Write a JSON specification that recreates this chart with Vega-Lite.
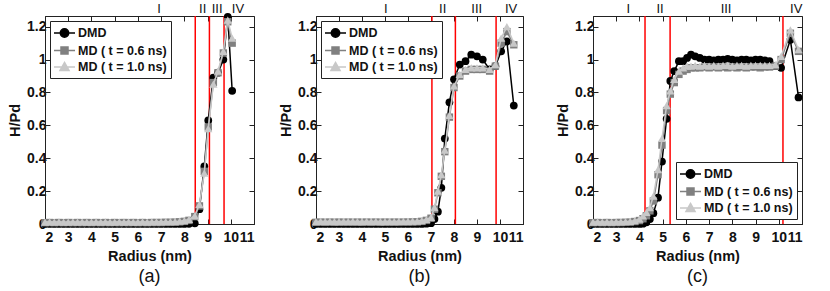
{
 "$schema": "https://vega.github.io/schema/vega-lite/v6.json",
 "padding": {"left": 7, "top": 2, "right": 5, "bottom": 2},
 "config": {
  "font": "Liberation Sans",
  "view": {"stroke": "#222", "strokeWidth": 1},
  "axis": {"grid": false, "domainColor": "#222", "tickColor": "#222", "labelColor": "#111", "titleColor": "#111", "labelFont": "Liberation Sans", "labelFontWeight": "bold", "labelFontSize": 14, "titleFont": "Liberation Sans", "titleFontWeight": "bold", "titleFontSize": 14.5, "tickSize": -5},
  "axisX": {"labelPadding": 11},
  "axisY": {"labelPadding": 4},
  "title": {"font": "Liberation Sans", "fontSize": 18, "fontWeight": "normal", "color": "#111", "orient": "bottom", "offset": 5},
  "legend": {"fillColor": "white", "strokeColor": "#222", "padding": 4, "offset": 5, "symbolSize": 196, "symbolStrokeWidth": 1.5, "symbolOpacity": 1, "labelFont": "Liberation Sans", "labelFontWeight": "bold", "labelFontSize": 12.5, "labelColor": "#111", "rowPadding": 1.5, "labelOffset": 5.5, "symbolOffset": 2.5}
 },
 "bounds": "flush",
 "spacing": 62,
 "resolve": {"scale": {"color": "independent", "stroke": "independent", "shape": "independent"}, "legend": {"color": "independent", "stroke": "independent", "shape": "independent"}},
 "datasets": {
  "curves": [
   {"p":"a","r":2.0,"s1":0,"s2":0.008,"s3":0.012},
   {"p":"a","r":2.2,"s1":0,"s2":0.009,"s3":0.013},
   {"p":"a","r":2.4,"s1":0,"s2":0.008,"s3":0.012},
   {"p":"a","r":2.6,"s1":0,"s2":0.009,"s3":0.013},
   {"p":"a","r":2.8,"s1":0,"s2":0.008,"s3":0.012},
   {"p":"a","r":3.0,"s1":0,"s2":0.009,"s3":0.012},
   {"p":"a","r":3.2,"s1":0,"s2":0.008,"s3":0.013},
   {"p":"a","r":3.4,"s1":0,"s2":0.009,"s3":0.012},
   {"p":"a","r":3.6,"s1":0,"s2":0.008,"s3":0.013},
   {"p":"a","r":3.8,"s1":0,"s2":0.009,"s3":0.012},
   {"p":"a","r":4.0,"s1":0,"s2":0.008,"s3":0.012},
   {"p":"a","r":4.2,"s1":0,"s2":0.009,"s3":0.013},
   {"p":"a","r":4.4,"s1":0,"s2":0.008,"s3":0.012},
   {"p":"a","r":4.6,"s1":0,"s2":0.009,"s3":0.013},
   {"p":"a","r":4.8,"s1":0,"s2":0.008,"s3":0.012},
   {"p":"a","r":5.0,"s1":0,"s2":0.009,"s3":0.012},
   {"p":"a","r":5.2,"s1":0,"s2":0.008,"s3":0.013},
   {"p":"a","r":5.4,"s1":0,"s2":0.009,"s3":0.012},
   {"p":"a","r":5.6,"s1":0,"s2":0.008,"s3":0.013},
   {"p":"a","r":5.8,"s1":0,"s2":0.009,"s3":0.012},
   {"p":"a","r":6.0,"s1":0,"s2":0.008,"s3":0.012},
   {"p":"a","r":6.2,"s1":0,"s2":0.009,"s3":0.013},
   {"p":"a","r":6.4,"s1":0,"s2":0.008,"s3":0.012},
   {"p":"a","r":6.6,"s1":0,"s2":0.009,"s3":0.013},
   {"p":"a","r":6.8,"s1":0,"s2":0.009,"s3":0.013},
   {"p":"a","r":7.0,"s1":0,"s2":0.009,"s3":0.013},
   {"p":"a","r":7.2,"s1":0,"s2":0.01,"s3":0.014},
   {"p":"a","r":7.4,"s1":0,"s2":0.01,"s3":0.014},
   {"p":"a","r":7.6,"s1":0,"s2":0.011,"s3":0.015},
   {"p":"a","r":7.8,"s1":0,"s2":0.013,"s3":0.017},
   {"p":"a","r":8.0,"s1":0,"s2":0.016,"s3":0.021},
   {"p":"a","r":8.2,"s1":0.001,"s2":0.022,"s3":0.028},
   {"p":"a","r":8.45,"s1":0.004,"s2":0.045,"s3":0.05},
   {"p":"a","r":8.65,"s1":0.09,"s2":0.11,"s3":0.12},
   {"p":"a","r":8.86,"s1":0.35,"s2":0.32,"s3":0.31},
   {"p":"a","r":9.03,"s1":0.63,"s2":0.59,"s3":0.58},
   {"p":"a","r":9.25,"s1":0.89,"s2":0.86,"s3":0.85},
   {"p":"a","r":9.45,"s1":0.92,"s2":0.92,"s3":0.93},
   {"p":"a","r":9.68,"s1":1.0,"s2":1.04,"s3":1.05},
   {"p":"a","r":9.87,"s1":1.26,"s2":1.23,"s3":1.24},
   {"p":"a","r":10.06,"s1":0.81,"s2":1.1,"s3":1.13},

   {"p":"b","r":2.0,"s1":0,"s2":0.01,"s3":0.015},
   {"p":"b","r":2.2,"s1":0,"s2":0.011,"s3":0.016},
   {"p":"b","r":2.4,"s1":0,"s2":0.01,"s3":0.015},
   {"p":"b","r":2.6,"s1":0,"s2":0.011,"s3":0.016},
   {"p":"b","r":2.8,"s1":0,"s2":0.01,"s3":0.015},
   {"p":"b","r":3.0,"s1":0,"s2":0.011,"s3":0.015},
   {"p":"b","r":3.2,"s1":0,"s2":0.01,"s3":0.016},
   {"p":"b","r":3.4,"s1":0,"s2":0.011,"s3":0.015},
   {"p":"b","r":3.6,"s1":0,"s2":0.01,"s3":0.016},
   {"p":"b","r":3.8,"s1":0,"s2":0.011,"s3":0.015},
   {"p":"b","r":4.0,"s1":0,"s2":0.01,"s3":0.015},
   {"p":"b","r":4.2,"s1":0,"s2":0.011,"s3":0.016},
   {"p":"b","r":4.4,"s1":0,"s2":0.01,"s3":0.015},
   {"p":"b","r":4.6,"s1":0,"s2":0.011,"s3":0.016},
   {"p":"b","r":4.8,"s1":0,"s2":0.01,"s3":0.015},
   {"p":"b","r":5.0,"s1":0,"s2":0.011,"s3":0.015},
   {"p":"b","r":5.2,"s1":0,"s2":0.01,"s3":0.016},
   {"p":"b","r":5.4,"s1":0,"s2":0.011,"s3":0.015},
   {"p":"b","r":5.6,"s1":0,"s2":0.01,"s3":0.016},
   {"p":"b","r":5.8,"s1":0,"s2":0.011,"s3":0.016},
   {"p":"b","r":6.0,"s1":0,"s2":0.011,"s3":0.016},
   {"p":"b","r":6.2,"s1":0,"s2":0.012,"s3":0.017},
   {"p":"b","r":6.4,"s1":0,"s2":0.013,"s3":0.018},
   {"p":"b","r":6.6,"s1":0,"s2":0.016,"s3":0.021},
   {"p":"b","r":6.8,"s1":0.002,"s2":0.022,"s3":0.028},
   {"p":"b","r":7.0,"s1":0.005,"s2":0.035,"s3":0.04},
   {"p":"b","r":7.15,"s1":0.03,"s2":0.09,"s3":0.1},
   {"p":"b","r":7.3,"s1":0.075,"s2":0.19,"s3":0.2},
   {"p":"b","r":7.45,"s1":0.22,"s2":0.29,"s3":0.3},
   {"p":"b","r":7.6,"s1":0.52,"s2":0.44,"s3":0.45},
   {"p":"b","r":7.8,"s1":0.74,"s2":0.65,"s3":0.66},
   {"p":"b","r":8.0,"s1":0.88,"s2":0.83,"s3":0.84},
   {"p":"b","r":8.25,"s1":0.97,"s2":0.9,"s3":0.91},
   {"p":"b","r":8.5,"s1":0.99,"s2":0.93,"s3":0.94},
   {"p":"b","r":8.75,"s1":1.03,"s2":0.94,"s3":0.95},
   {"p":"b","r":9.0,"s1":1.02,"s2":0.94,"s3":0.95},
   {"p":"b","r":9.25,"s1":1.0,"s2":0.94,"s3":0.95},
   {"p":"b","r":9.55,"s1":0.94,"s2":0.93,"s3":0.94},
   {"p":"b","r":9.8,"s1":0.96,"s2":0.96,"s3":0.97},
   {"p":"b","r":10.05,"s1":1.05,"s2":1.1,"s3":1.13},
   {"p":"b","r":10.3,"s1":1.11,"s2":1.17,"s3":1.2},
   {"p":"b","r":10.6,"s1":0.72,"s2":1.09,"s3":1.1},

   {"p":"c","r":2.0,"s1":0,"s2":0.008,"s3":0.012},
   {"p":"c","r":2.2,"s1":0,"s2":0.009,"s3":0.013},
   {"p":"c","r":2.4,"s1":0,"s2":0.008,"s3":0.012},
   {"p":"c","r":2.6,"s1":0,"s2":0.009,"s3":0.013},
   {"p":"c","r":2.8,"s1":0,"s2":0.008,"s3":0.012},
   {"p":"c","r":3.0,"s1":0,"s2":0.009,"s3":0.013},
   {"p":"c","r":3.2,"s1":0,"s2":0.009,"s3":0.013},
   {"p":"c","r":3.4,"s1":0,"s2":0.01,"s3":0.014},
   {"p":"c","r":3.6,"s1":0,"s2":0.011,"s3":0.016},
   {"p":"c","r":3.8,"s1":0,"s2":0.015,"s3":0.021},
   {"p":"c","r":4.0,"s1":0,"s2":0.021,"s3":0.03},
   {"p":"c","r":4.15,"s1":0.002,"s2":0.032,"s3":0.05},
   {"p":"c","r":4.3,"s1":0.01,"s2":0.05,"s3":0.07},
   {"p":"c","r":4.45,"s1":0.03,"s2":0.08,"s3":0.1},
   {"p":"c","r":4.6,"s1":0.066,"s2":0.14,"s3":0.17},
   {"p":"c","r":4.8,"s1":0.16,"s2":0.3,"s3":0.33},
   {"p":"c","r":4.97,"s1":0.38,"s2":0.48,"s3":0.52},
   {"p":"c","r":5.17,"s1":0.64,"s2":0.69,"s3":0.72},
   {"p":"c","r":5.33,"s1":0.87,"s2":0.79,"s3":0.81},
   {"p":"c","r":5.5,"s1":0.93,"s2":0.86,"s3":0.88},
   {"p":"c","r":5.7,"s1":0.99,"s2":0.91,"s3":0.93},
   {"p":"c","r":5.88,"s1":0.99,"s2":0.93,"s3":0.95},
   {"p":"c","r":6.05,"s1":1.01,"s2":0.94,"s3":0.96},
   {"p":"c","r":6.22,"s1":1.03,"s2":0.95,"s3":0.96},
   {"p":"c","r":6.4,"s1":1.02,"s2":0.95,"s3":0.965},
   {"p":"c","r":6.6,"s1":1.01,"s2":0.95,"s3":0.96},
   {"p":"c","r":6.8,"s1":1.0,"s2":0.955,"s3":0.965},
   {"p":"c","r":7.0,"s1":1.0,"s2":0.95,"s3":0.96},
   {"p":"c","r":7.2,"s1":0.995,"s2":0.955,"s3":0.965},
   {"p":"c","r":7.4,"s1":1.0,"s2":0.95,"s3":0.96},
   {"p":"c","r":7.6,"s1":1.0,"s2":0.955,"s3":0.965},
   {"p":"c","r":7.8,"s1":1.005,"s2":0.95,"s3":0.965},
   {"p":"c","r":8.0,"s1":1.0,"s2":0.955,"s3":0.96},
   {"p":"c","r":8.2,"s1":0.995,"s2":0.95,"s3":0.965},
   {"p":"c","r":8.4,"s1":1.0,"s2":0.955,"s3":0.965},
   {"p":"c","r":8.6,"s1":1.0,"s2":0.95,"s3":0.96},
   {"p":"c","r":8.8,"s1":0.995,"s2":0.955,"s3":0.965},
   {"p":"c","r":9.0,"s1":1.0,"s2":0.955,"s3":0.965},
   {"p":"c","r":9.2,"s1":1.0,"s2":0.95,"s3":0.965},
   {"p":"c","r":9.4,"s1":0.995,"s2":0.955,"s3":0.965},
   {"p":"c","r":9.6,"s1":0.99,"s2":0.955,"s3":0.965},
   {"p":"c","r":9.85,"s1":0.96,"s2":0.96,"s3":0.97},
   {"p":"c","r":10.1,"s1":0.95,"s2":1.0,"s3":1.02},
   {"p":"c","r":10.5,"s1":1.12,"s2":1.16,"s3":1.18},
   {"p":"c","r":10.85,"s1":0.77,"s2":1.05,"s3":1.06}
  ],
  "bounds": [
   {"p":"a","x":8.47},{"p":"a","x":9.08},{"p":"a","x":9.71},
   {"p":"b","x":7.04},{"p":"b","x":8.06},{"p":"b","x":9.83},
   {"p":"c","x":4.24},{"p":"c","x":5.32},{"p":"c","x":10.18}
  ],
  "labels": [
   {"p":"a","t":"I","x":6.91},{"p":"a","t":"II","x":8.79},{"p":"a","t":"III","x":9.41},{"p":"a","t":"IV","x":10.31},
   {"p":"b","t":"I","x":5.04},{"p":"b","t":"II","x":7.51},{"p":"b","t":"III","x":8.99},{"p":"b","t":"IV","x":10.48},
   {"p":"c","t":"I","x":3.52},{"p":"c","t":"II","x":4.89},{"p":"c","t":"III","x":7.73},{"p":"c","t":"IV","x":10.75}
  ],
  "series": [{"series":"s1"},{"series":"s2"},{"series":"s3"}]
 },
 "hconcat": [
  {
   "width": 209, "height": 208,
   "title": {"text": "(a)"},
   "resolve": {"axis": {"x": "independent", "y": "independent"}},
   "layer": [
    {"data": {"name": "bounds"}, "transform": [{"filter": "datum.p == 'a'"}],
     "mark": {"type": "rule", "color": "#ff0000", "strokeWidth": 1.5},
     "encoding": {"x": {"field": "x", "type": "quantitative", "scale": {"domain": [2, 11], "nice": false, "zero": false}, "axis": null}}},
    {"data": {"name": "curves"}, "transform": [{"filter": "datum.p == 'a'"}],
     "mark": {"type": "line", "strokeWidth": 1.5, "color": "#000000"},
     "encoding": {
      "x": {"field": "r", "type": "quantitative", "scale": {"domain": [2, 11], "nice": false, "zero": false}, "axis": {"orient": "bottom", "values": [2,3,4,5,6,7,8,9,10,11], "format": "d", "title": "Radius (nm)", "titlePadding": 5}},
      "y": {"field": "s1", "type": "quantitative", "scale": {"domain": [0, 1.265], "nice": false, "zero": false}, "axis": {"orient": "left", "values": [0,0.2,0.4,0.6,0.8,1,1.2], "format": "~g", "title": "H/Pd", "titlePadding": 4}}}},
    {"data": {"name": "curves"}, "transform": [{"filter": "datum.p == 'a'"}],
     "mark": {"type": "point", "filled": true, "size": 60, "opacity": 1, "shape": "circle", "color": "#000000"},
     "encoding": {
      "x": {"field": "r", "type": "quantitative", "scale": {"domain": [2, 11], "nice": false, "zero": false}, "axis": null},
      "y": {"field": "s1", "type": "quantitative", "scale": {"domain": [0, 1.265], "nice": false, "zero": false}, "axis": null}}},
    {"data": {"name": "curves"}, "transform": [{"filter": "datum.p == 'a'"}],
     "mark": {"type": "line", "strokeWidth": 1.5, "color": "#808080"},
     "encoding": {
      "x": {"field": "r", "type": "quantitative", "scale": {"domain": [2, 11], "nice": false, "zero": false}, "axis": null},
      "y": {"field": "s2", "type": "quantitative", "scale": {"domain": [0, 1.265], "nice": false, "zero": false}, "axis": null}}},
    {"data": {"name": "curves"}, "transform": [{"filter": "datum.p == 'a'"}],
     "mark": {"type": "point", "filled": true, "size": 55, "opacity": 1, "shape": "square", "color": "#808080"},
     "encoding": {
      "x": {"field": "r", "type": "quantitative", "scale": {"domain": [2, 11], "nice": false, "zero": false}, "axis": null},
      "y": {"field": "s2", "type": "quantitative", "scale": {"domain": [0, 1.265], "nice": false, "zero": false}, "axis": null}}},
    {"data": {"name": "curves"}, "transform": [{"filter": "datum.p == 'a'"}],
     "mark": {"type": "line", "strokeWidth": 1.5, "color": "#c8c8c8"},
     "encoding": {
      "x": {"field": "r", "type": "quantitative", "scale": {"domain": [2, 11], "nice": false, "zero": false}, "axis": null},
      "y": {"field": "s3", "type": "quantitative", "scale": {"domain": [0, 1.265], "nice": false, "zero": false}, "axis": null}}},
    {"data": {"name": "curves"}, "transform": [{"filter": "datum.p == 'a'"}],
     "mark": {"type": "point", "filled": true, "size": 70, "opacity": 1, "shape": "triangle-up", "color": "#c8c8c8"},
     "encoding": {
      "x": {"field": "r", "type": "quantitative", "scale": {"domain": [2, 11], "nice": false, "zero": false}, "axis": null},
      "y": {"field": "s3", "type": "quantitative", "scale": {"domain": [0, 1.265], "nice": false, "zero": false}, "axis": null}}},
    {"data": {"name": "series"}, "transform": [{"filter": "false"}],
     "mark": {"type": "point", "filled": true},
     "encoding": {
      "color": {"field": "series", "type": "nominal", "scale": {"domain": ["s1","s2","s3"], "range": ["#000000","#808080","#c8c8c8"]}, "legend": {"orient": "top-left", "title": null, "labelExpr": "datum.label == 's1' ? 'DMD' : datum.label == 's2' ? 'MD ( t = 0.6 ns)' : 'MD ( t = 1.0 ns)'"}},
      "stroke": {"field": "series", "type": "nominal", "scale": {"domain": ["s1","s2","s3"], "range": ["#000000","#808080","#c8c8c8"]}, "legend": {"orient": "top-left", "title": null, "labelExpr": "datum.label == 's1' ? 'DMD' : datum.label == 's2' ? 'MD ( t = 0.6 ns)' : 'MD ( t = 1.0 ns)'"}},
      "shape": {"field": "series", "type": "nominal", "scale": {"domain": ["s1","s2","s3"], "range": ["M-1.5,0H1.5M0.6,0A0.6,0.6,0,1,1,-0.6,0A0.6,0.6,0,1,1,0.6,0Z", "M-1.5,0H1.5M-0.5,-0.5H0.5V0.5H-0.5Z", "M-1.5,0H1.5M0,-0.65L0.65,0.5H-0.65Z"]}, "legend": {"orient": "top-left", "title": null, "labelExpr": "datum.label == 's1' ? 'DMD' : datum.label == 's2' ? 'MD ( t = 0.6 ns)' : 'MD ( t = 1.0 ns)'"}}}},
    {"data": {"name": "labels"}, "transform": [{"filter": "datum.p == 'a'"}],
     "mark": {"type": "text", "fontSize": 13, "color": "#111", "baseline": "middle", "clip": false},
     "encoding": {
      "x": {"field": "x", "type": "quantitative", "scale": {"domain": [2, 11], "nice": false, "zero": false}, "axis": {"orient": "top", "values": [2,3,4,5,6,7,8,9,10,11], "labels": false, "domain": false, "title": null}},
      "y": {"datum": 1.31, "type": "quantitative", "scale": {"domain": [0, 1.265], "nice": false, "zero": false}, "axis": {"orient": "right", "values": [0,0.2,0.4,0.6,0.8,1,1.2], "labels": false, "domain": false, "title": null}},
      "text": {"field": "t"}}}
   ]
  },
  {
  "bounds": "flush",
  "spacing": 70,
  "hconcat": [
  {
   "width": 207, "height": 208,
   "title": {"text": "(b)"},
   "resolve": {"axis": {"x": "independent", "y": "independent"}},
   "layer": [
    {"data": {"name": "bounds"}, "transform": [{"filter": "datum.p == 'b'"}],
     "mark": {"type": "rule", "color": "#ff0000", "strokeWidth": 1.5},
     "encoding": {"x": {"field": "x", "type": "quantitative", "scale": {"domain": [2, 11], "nice": false, "zero": false}, "axis": null}}},
    {"data": {"name": "curves"}, "transform": [{"filter": "datum.p == 'b'"}],
     "mark": {"type": "line", "strokeWidth": 1.5, "color": "#000000"},
     "encoding": {
      "x": {"field": "r", "type": "quantitative", "scale": {"domain": [2, 11], "nice": false, "zero": false}, "axis": {"orient": "bottom", "values": [2,3,4,5,6,7,8,9,10,11], "format": "d", "title": "Radius (nm)", "titlePadding": 5}},
      "y": {"field": "s1", "type": "quantitative", "scale": {"domain": [0, 1.265], "nice": false, "zero": false}, "axis": {"orient": "left", "values": [0,0.2,0.4,0.6,0.8,1,1.2], "format": "~g", "title": "H/Pd", "titlePadding": 4}}}},
    {"data": {"name": "curves"}, "transform": [{"filter": "datum.p == 'b'"}],
     "mark": {"type": "point", "filled": true, "size": 60, "opacity": 1, "shape": "circle", "color": "#000000"},
     "encoding": {
      "x": {"field": "r", "type": "quantitative", "scale": {"domain": [2, 11], "nice": false, "zero": false}, "axis": null},
      "y": {"field": "s1", "type": "quantitative", "scale": {"domain": [0, 1.265], "nice": false, "zero": false}, "axis": null}}},
    {"data": {"name": "curves"}, "transform": [{"filter": "datum.p == 'b'"}],
     "mark": {"type": "line", "strokeWidth": 1.5, "color": "#808080"},
     "encoding": {
      "x": {"field": "r", "type": "quantitative", "scale": {"domain": [2, 11], "nice": false, "zero": false}, "axis": null},
      "y": {"field": "s2", "type": "quantitative", "scale": {"domain": [0, 1.265], "nice": false, "zero": false}, "axis": null}}},
    {"data": {"name": "curves"}, "transform": [{"filter": "datum.p == 'b'"}],
     "mark": {"type": "point", "filled": true, "size": 55, "opacity": 1, "shape": "square", "color": "#808080"},
     "encoding": {
      "x": {"field": "r", "type": "quantitative", "scale": {"domain": [2, 11], "nice": false, "zero": false}, "axis": null},
      "y": {"field": "s2", "type": "quantitative", "scale": {"domain": [0, 1.265], "nice": false, "zero": false}, "axis": null}}},
    {"data": {"name": "curves"}, "transform": [{"filter": "datum.p == 'b'"}],
     "mark": {"type": "line", "strokeWidth": 1.5, "color": "#c8c8c8"},
     "encoding": {
      "x": {"field": "r", "type": "quantitative", "scale": {"domain": [2, 11], "nice": false, "zero": false}, "axis": null},
      "y": {"field": "s3", "type": "quantitative", "scale": {"domain": [0, 1.265], "nice": false, "zero": false}, "axis": null}}},
    {"data": {"name": "curves"}, "transform": [{"filter": "datum.p == 'b'"}],
     "mark": {"type": "point", "filled": true, "size": 70, "opacity": 1, "shape": "triangle-up", "color": "#c8c8c8"},
     "encoding": {
      "x": {"field": "r", "type": "quantitative", "scale": {"domain": [2, 11], "nice": false, "zero": false}, "axis": null},
      "y": {"field": "s3", "type": "quantitative", "scale": {"domain": [0, 1.265], "nice": false, "zero": false}, "axis": null}}},
    {"data": {"name": "series"}, "transform": [{"filter": "false"}],
     "mark": {"type": "point", "filled": true},
     "encoding": {
      "color": {"field": "series", "type": "nominal", "scale": {"domain": ["s1","s2","s3"], "range": ["#000000","#808080","#c8c8c8"]}, "legend": {"orient": "top-left", "title": null, "labelExpr": "datum.label == 's1' ? 'DMD' : datum.label == 's2' ? 'MD ( t = 0.6 ns)' : 'MD ( t = 1.0 ns)'"}},
      "stroke": {"field": "series", "type": "nominal", "scale": {"domain": ["s1","s2","s3"], "range": ["#000000","#808080","#c8c8c8"]}, "legend": {"orient": "top-left", "title": null, "labelExpr": "datum.label == 's1' ? 'DMD' : datum.label == 's2' ? 'MD ( t = 0.6 ns)' : 'MD ( t = 1.0 ns)'"}},
      "shape": {"field": "series", "type": "nominal", "scale": {"domain": ["s1","s2","s3"], "range": ["M-1.5,0H1.5M0.6,0A0.6,0.6,0,1,1,-0.6,0A0.6,0.6,0,1,1,0.6,0Z", "M-1.5,0H1.5M-0.5,-0.5H0.5V0.5H-0.5Z", "M-1.5,0H1.5M0,-0.65L0.65,0.5H-0.65Z"]}, "legend": {"orient": "top-left", "title": null, "labelExpr": "datum.label == 's1' ? 'DMD' : datum.label == 's2' ? 'MD ( t = 0.6 ns)' : 'MD ( t = 1.0 ns)'"}}}},
    {"data": {"name": "labels"}, "transform": [{"filter": "datum.p == 'b'"}],
     "mark": {"type": "text", "fontSize": 13, "color": "#111", "baseline": "middle", "clip": false},
     "encoding": {
      "x": {"field": "x", "type": "quantitative", "scale": {"domain": [2, 11], "nice": false, "zero": false}, "axis": {"orient": "top", "values": [2,3,4,5,6,7,8,9,10,11], "labels": false, "domain": false, "title": null}},
      "y": {"datum": 1.31, "type": "quantitative", "scale": {"domain": [0, 1.265], "nice": false, "zero": false}, "axis": {"orient": "right", "values": [0,0.2,0.4,0.6,0.8,1,1.2], "labels": false, "domain": false, "title": null}},
      "text": {"field": "t"}}}
   ]
  },
  {
   "width": 209, "height": 208,
   "title": {"text": "(c)"},
   "resolve": {"axis": {"x": "independent", "y": "independent"}},
   "layer": [
    {"data": {"name": "bounds"}, "transform": [{"filter": "datum.p == 'c'"}],
     "mark": {"type": "rule", "color": "#ff0000", "strokeWidth": 1.5},
     "encoding": {"x": {"field": "x", "type": "quantitative", "scale": {"domain": [2, 11], "nice": false, "zero": false}, "axis": null}}},
    {"data": {"name": "curves"}, "transform": [{"filter": "datum.p == 'c'"}],
     "mark": {"type": "line", "strokeWidth": 1.5, "color": "#000000"},
     "encoding": {
      "x": {"field": "r", "type": "quantitative", "scale": {"domain": [2, 11], "nice": false, "zero": false}, "axis": {"orient": "bottom", "values": [2,3,4,5,6,7,8,9,10,11], "format": "d", "title": "Radius (nm)", "titlePadding": 5}},
      "y": {"field": "s1", "type": "quantitative", "scale": {"domain": [0, 1.265], "nice": false, "zero": false}, "axis": {"orient": "left", "values": [0,0.2,0.4,0.6,0.8,1,1.2], "format": "~g", "title": "H/Pd", "titlePadding": 4}}}},
    {"data": {"name": "curves"}, "transform": [{"filter": "datum.p == 'c'"}],
     "mark": {"type": "point", "filled": true, "size": 60, "opacity": 1, "shape": "circle", "color": "#000000"},
     "encoding": {
      "x": {"field": "r", "type": "quantitative", "scale": {"domain": [2, 11], "nice": false, "zero": false}, "axis": null},
      "y": {"field": "s1", "type": "quantitative", "scale": {"domain": [0, 1.265], "nice": false, "zero": false}, "axis": null}}},
    {"data": {"name": "curves"}, "transform": [{"filter": "datum.p == 'c'"}],
     "mark": {"type": "line", "strokeWidth": 1.5, "color": "#808080"},
     "encoding": {
      "x": {"field": "r", "type": "quantitative", "scale": {"domain": [2, 11], "nice": false, "zero": false}, "axis": null},
      "y": {"field": "s2", "type": "quantitative", "scale": {"domain": [0, 1.265], "nice": false, "zero": false}, "axis": null}}},
    {"data": {"name": "curves"}, "transform": [{"filter": "datum.p == 'c'"}],
     "mark": {"type": "point", "filled": true, "size": 55, "opacity": 1, "shape": "square", "color": "#808080"},
     "encoding": {
      "x": {"field": "r", "type": "quantitative", "scale": {"domain": [2, 11], "nice": false, "zero": false}, "axis": null},
      "y": {"field": "s2", "type": "quantitative", "scale": {"domain": [0, 1.265], "nice": false, "zero": false}, "axis": null}}},
    {"data": {"name": "curves"}, "transform": [{"filter": "datum.p == 'c'"}],
     "mark": {"type": "line", "strokeWidth": 1.5, "color": "#c8c8c8"},
     "encoding": {
      "x": {"field": "r", "type": "quantitative", "scale": {"domain": [2, 11], "nice": false, "zero": false}, "axis": null},
      "y": {"field": "s3", "type": "quantitative", "scale": {"domain": [0, 1.265], "nice": false, "zero": false}, "axis": null}}},
    {"data": {"name": "curves"}, "transform": [{"filter": "datum.p == 'c'"}],
     "mark": {"type": "point", "filled": true, "size": 70, "opacity": 1, "shape": "triangle-up", "color": "#c8c8c8"},
     "encoding": {
      "x": {"field": "r", "type": "quantitative", "scale": {"domain": [2, 11], "nice": false, "zero": false}, "axis": null},
      "y": {"field": "s3", "type": "quantitative", "scale": {"domain": [0, 1.265], "nice": false, "zero": false}, "axis": null}}},
    {"data": {"name": "series"}, "transform": [{"filter": "false"}],
     "mark": {"type": "point", "filled": true},
     "encoding": {
      "color": {"field": "series", "type": "nominal", "scale": {"domain": ["s1","s2","s3"], "range": ["#000000","#808080","#c8c8c8"]}, "legend": {"orient": "bottom-right", "title": null, "labelExpr": "datum.label == 's1' ? 'DMD' : datum.label == 's2' ? 'MD ( t = 0.6 ns)' : 'MD ( t = 1.0 ns)'"}},
      "stroke": {"field": "series", "type": "nominal", "scale": {"domain": ["s1","s2","s3"], "range": ["#000000","#808080","#c8c8c8"]}, "legend": {"orient": "bottom-right", "title": null, "labelExpr": "datum.label == 's1' ? 'DMD' : datum.label == 's2' ? 'MD ( t = 0.6 ns)' : 'MD ( t = 1.0 ns)'"}},
      "shape": {"field": "series", "type": "nominal", "scale": {"domain": ["s1","s2","s3"], "range": ["M-1.5,0H1.5M0.6,0A0.6,0.6,0,1,1,-0.6,0A0.6,0.6,0,1,1,0.6,0Z", "M-1.5,0H1.5M-0.5,-0.5H0.5V0.5H-0.5Z", "M-1.5,0H1.5M0,-0.65L0.65,0.5H-0.65Z"]}, "legend": {"orient": "bottom-right", "title": null, "labelExpr": "datum.label == 's1' ? 'DMD' : datum.label == 's2' ? 'MD ( t = 0.6 ns)' : 'MD ( t = 1.0 ns)'"}}}},
    {"data": {"name": "labels"}, "transform": [{"filter": "datum.p == 'c'"}],
     "mark": {"type": "text", "fontSize": 13, "color": "#111", "baseline": "middle", "clip": false},
     "encoding": {
      "x": {"field": "x", "type": "quantitative", "scale": {"domain": [2, 11], "nice": false, "zero": false}, "axis": {"orient": "top", "values": [2,3,4,5,6,7,8,9,10,11], "labels": false, "domain": false, "title": null}},
      "y": {"datum": 1.31, "type": "quantitative", "scale": {"domain": [0, 1.265], "nice": false, "zero": false}, "axis": {"orient": "right", "values": [0,0.2,0.4,0.6,0.8,1,1.2], "labels": false, "domain": false, "title": null}},
      "text": {"field": "t"}}}
   ]
  }
  ]
  }
 ]
}
